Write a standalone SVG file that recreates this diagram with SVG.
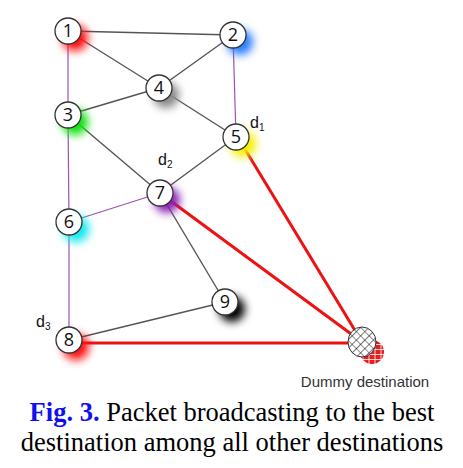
<svg xmlns="http://www.w3.org/2000/svg" width="463" height="468" viewBox="0 0 463 468">
<style>
.g{stroke:#555;stroke-width:1.4;fill:none}
.p{stroke:#a050b0;stroke-width:1.2;fill:none}
.r{stroke:#ee1111;stroke-width:3;fill:none}
.n{fill:#fff;stroke:#333;stroke-width:1.3}
.t{font-family:"Open Sans","DejaVu Sans",sans-serif;font-size:18px;fill:#111;text-anchor:middle}
.d{font-family:"Liberation Sans",Arial,sans-serif;font-size:16px;fill:#111}
.s{font-size:10px}
.glow{filter:url(#bl)}
</style>
<defs>
<filter id="bl" x="-1" y="-1" width="3" height="3"><feGaussianBlur stdDeviation="4"/></filter>
<pattern id="hatch" width="6" height="6" patternUnits="userSpaceOnUse" patternTransform="rotate(45)">
<rect width="6" height="6" fill="#fff"/>
<path d="M0 0H6M0 0V6" stroke="#222" stroke-width="1.2"/>
</pattern>
<pattern id="brick" width="6" height="5" patternUnits="userSpaceOnUse">
<rect width="6" height="5" fill="#e51f1f"/>
<path d="M0 4.5H6M3 0V4.5" stroke="#fff" stroke-width="0.8"/>
</pattern>
</defs>
<rect width="463" height="468" fill="#fff"/>
<g id="connectors">
<line class="g" x1="68" y1="31" x2="233" y2="35"/>
<line class="g" x1="68" y1="31" x2="159" y2="88"/>
<line class="g" x1="233" y1="35" x2="159" y2="88"/>
<line class="g" x1="68" y1="115" x2="159" y2="88"/>
<line class="g" x1="159" y1="88" x2="236" y2="137"/>
<line class="g" x1="68" y1="115" x2="160" y2="193"/>
<line class="g" x1="236" y1="137" x2="160" y2="193"/>
<line class="g" x1="160" y1="193" x2="225" y2="302"/>
<line class="g" x1="69" y1="340" x2="225" y2="302"/>
<line class="p" x1="68" y1="31" x2="68" y2="115"/>
<line class="p" x1="68" y1="115" x2="69" y2="222"/>
<line class="p" x1="69" y1="222" x2="69" y2="340"/>
<line class="p" x1="233" y1="35" x2="236" y2="137"/>
<line class="p" x1="69" y1="222" x2="160" y2="193"/>
<line class="r" x1="240" y1="141" x2="362" y2="342"/>
<line class="r" x1="164" y1="196" x2="362" y2="342"/>
<line class="r" x1="69" y1="343" x2="362" y2="343"/>
</g>
<g id="node1"><circle class="glow" cx="75" cy="38" r="13" fill="#ff1010"/><circle class="n" cx="68" cy="31" r="13"/><text class="t" x="68" y="37">1</text></g>
<g id="node2"><circle class="glow" cx="240" cy="42" r="13" fill="#2a7bff"/><circle class="n" cx="233" cy="35" r="13"/><text class="t" x="233" y="41">2</text></g>
<g id="node4"><circle class="glow" cx="166" cy="95" r="13" fill="#888"/><circle class="n" cx="159" cy="88" r="13"/><text class="t" x="159" y="94">4</text></g>
<g id="node3"><circle class="glow" cx="75" cy="122" r="13" fill="#10e010"/><circle class="n" cx="68" cy="115" r="13"/><text class="t" x="68" y="121">3</text></g>
<g id="node5"><circle class="glow" cx="243" cy="144" r="13" fill="#f4f000"/><circle class="n" cx="236" cy="137" r="13"/><text class="t" x="236" y="143">5</text></g>
<g id="node7"><circle class="glow" cx="167" cy="200" r="13" fill="#8a20b0"/><circle class="n" cx="160" cy="193" r="13"/><text class="t" x="160" y="199">7</text></g>
<g id="node6"><circle class="glow" cx="76" cy="229" r="13" fill="#10e8f0"/><circle class="n" cx="69" cy="222" r="13"/><text class="t" x="69" y="228">6</text></g>
<g id="node9"><circle class="glow" cx="232" cy="309" r="13" fill="#000"/><circle class="n" cx="225" cy="302" r="13"/><text class="t" x="225" y="308">9</text></g>
<g id="node8"><circle class="glow" cx="76" cy="347" r="13" fill="#ff1010"/><circle class="n" cx="69" cy="340" r="13"/><text class="t" x="69" y="346">8</text></g>
<g id="dummy">
<circle cx="372" cy="352" r="12" fill="url(#brick)"/>
<ellipse cx="362" cy="342" rx="14" ry="15" fill="url(#hatch)" stroke="#333" stroke-width="1"/>
<text x="365" y="387" font-family="Liberation Sans,Arial,sans-serif" font-size="15" fill="#333" text-anchor="middle">Dummy destination</text>
</g>
<g id="labels">
<text class="d" x="250" y="128">d<tspan class="s" dy="3">1</tspan></text>
<text class="d" x="158" y="165">d<tspan class="s" dy="3">2</tspan></text>
<text class="d" x="36" y="327">d<tspan class="s" dy="3">3</tspan></text>
</g>
<g id="caption" font-family="Liberation Serif,Times New Roman,serif" font-size="26.5" text-anchor="middle">
<text x="232" y="421"><tspan fill="#1010ee" font-weight="bold">Fig. 3.</tspan> Packet broadcasting to the best</text>
<text x="232" y="451">destination among all other destinations</text>
</g>
</svg>
